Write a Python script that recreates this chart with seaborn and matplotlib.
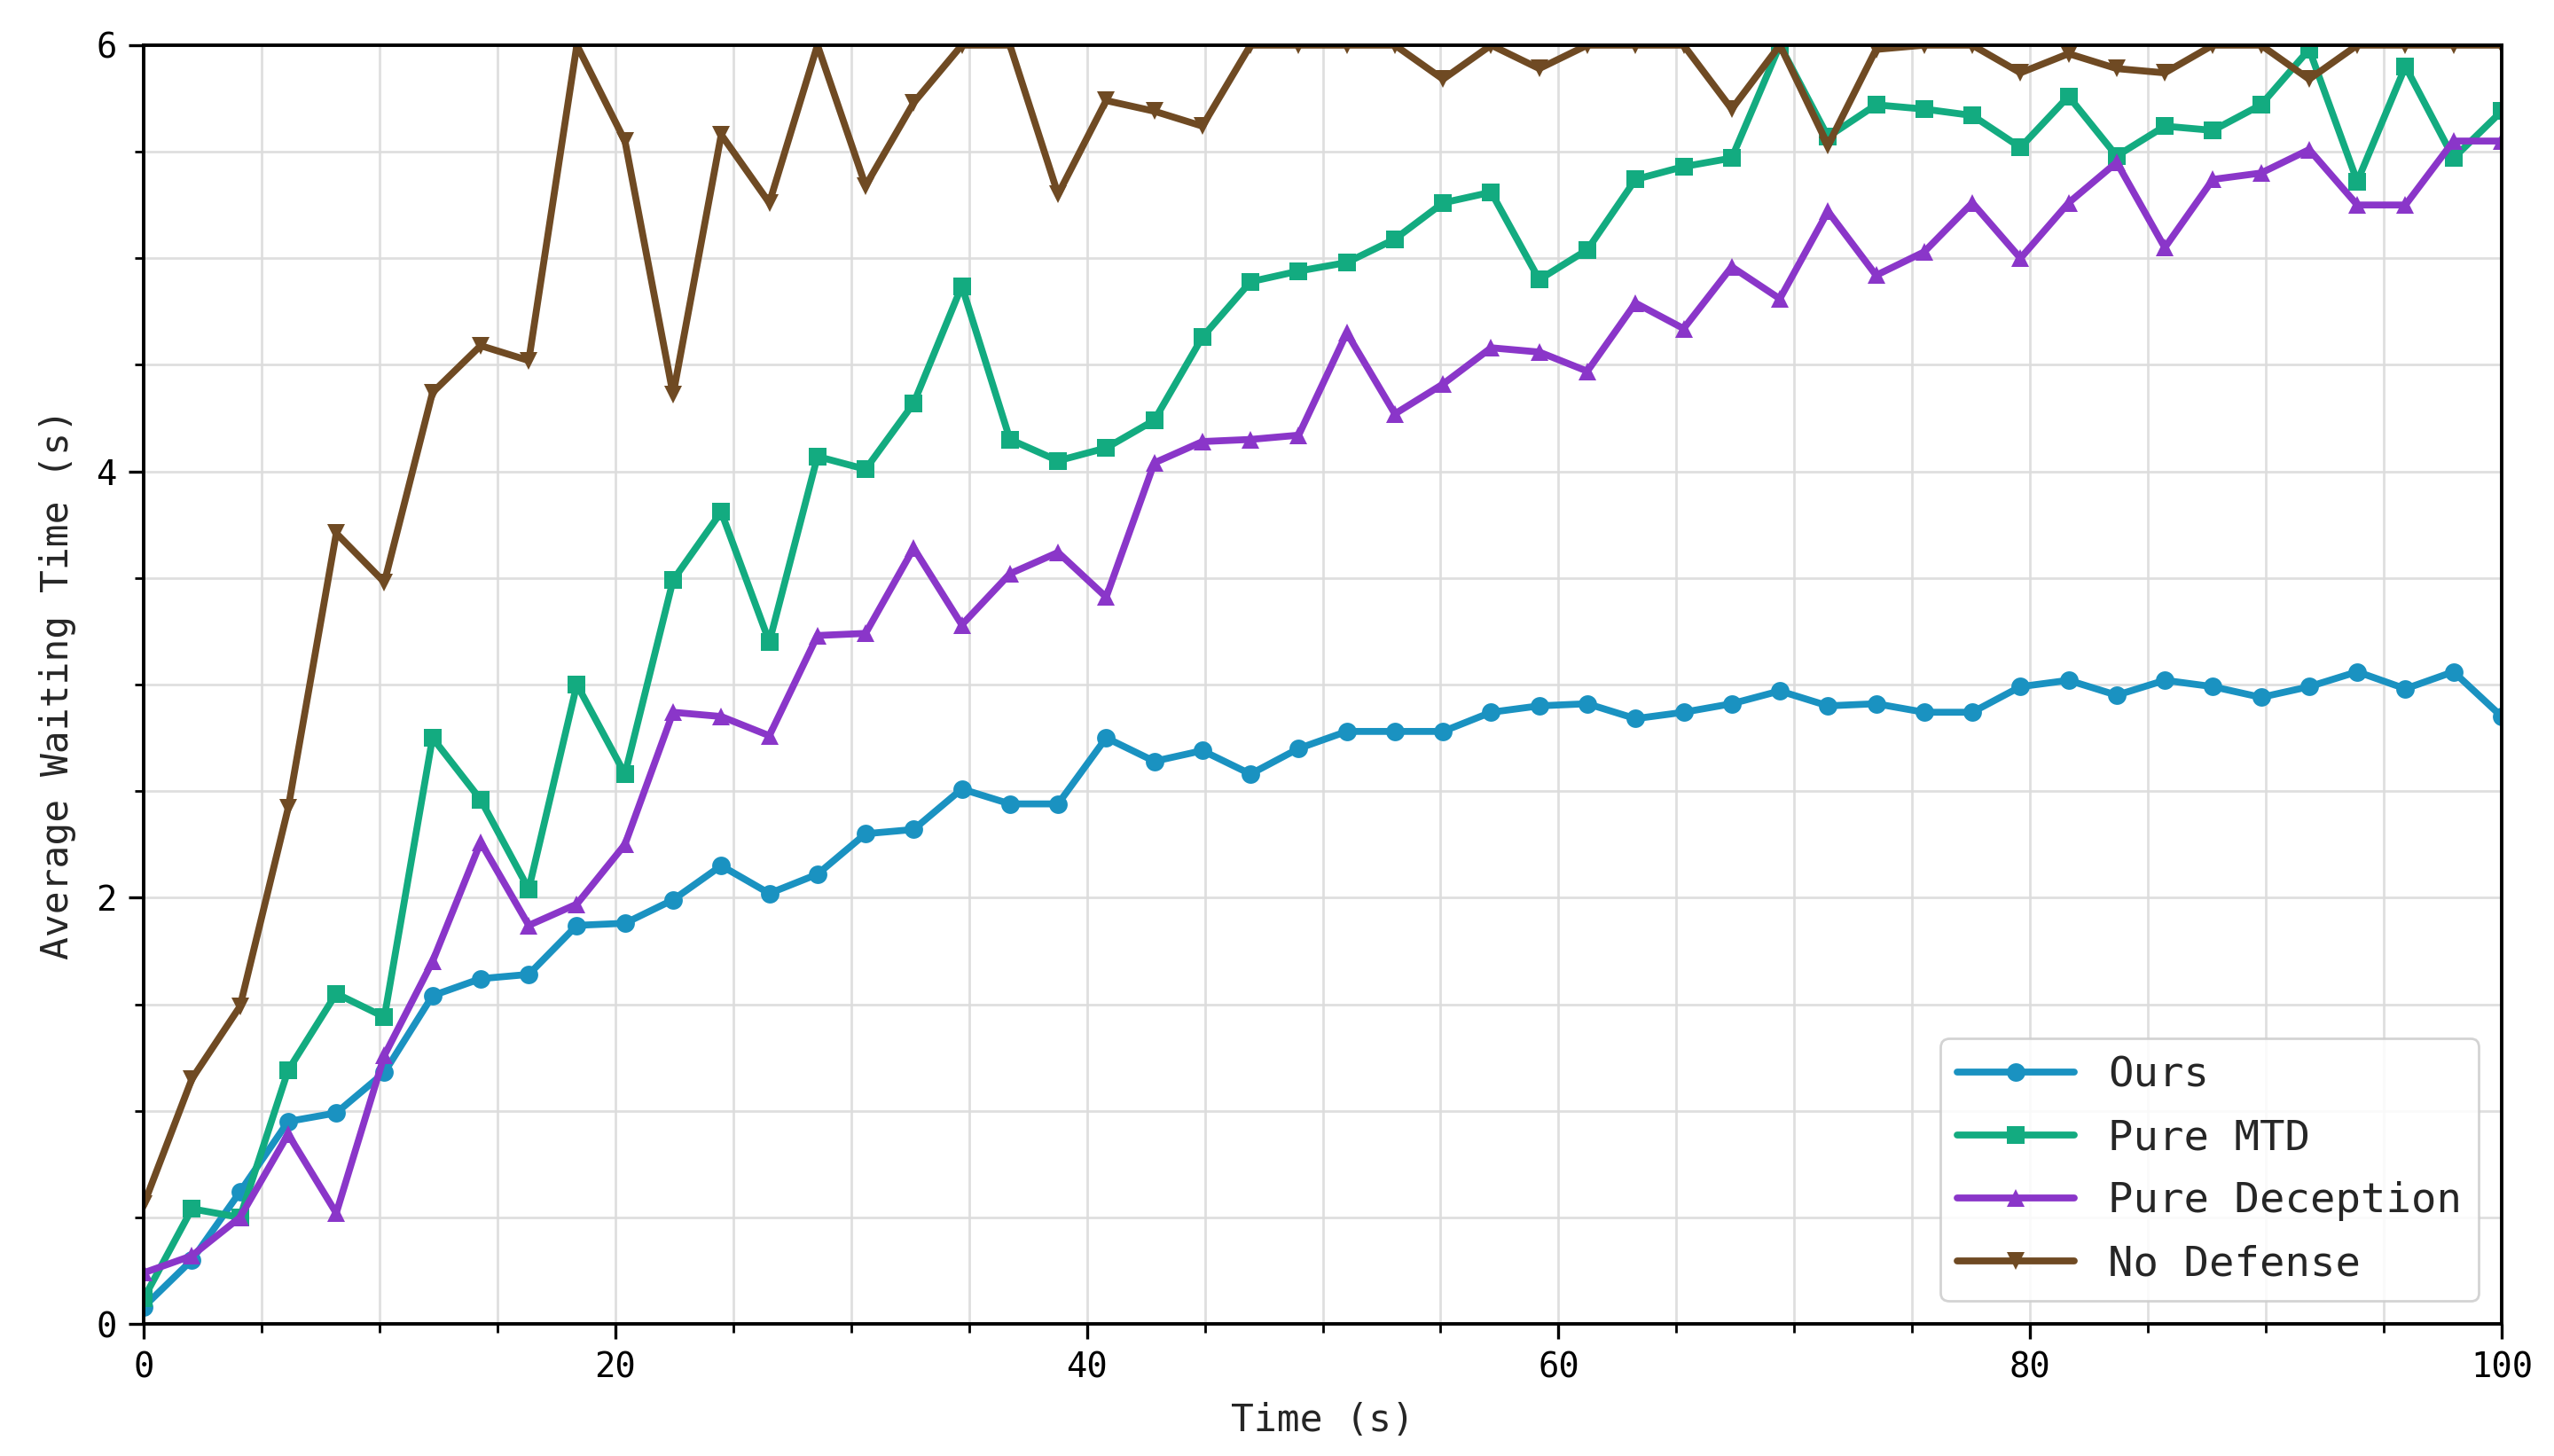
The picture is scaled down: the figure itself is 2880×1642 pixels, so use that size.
"""Average waiting time of the four defense strategies over time."""
import numpy as np
import pandas as pd
import matplotlib
matplotlib.use('Agg')
import matplotlib.pyplot as plt
from matplotlib.ticker import MultipleLocator
import seaborn as sns

# 50 sampling points between 0 and 100 s
time_s = np.linspace(0, 100, 50)

ours = [0.08, 0.30, 0.62, 0.95, 0.99, 1.18, 1.54, 1.62, 1.64, 1.87,
        1.88, 1.99, 2.15, 2.02, 2.11, 2.30, 2.32, 2.51, 2.44, 2.44,
        2.75, 2.64, 2.69, 2.58, 2.70, 2.78, 2.78, 2.78, 2.87, 2.90,
        2.91, 2.84, 2.87, 2.91, 2.97, 2.90, 2.91, 2.87, 2.87, 2.99,
        3.02, 2.95, 3.02, 2.99, 2.94, 2.99, 3.06, 2.98, 3.06, 2.85]

pure_mtd = [0.12, 0.54, 0.50, 1.19, 1.55, 1.44, 2.75, 2.46, 2.04, 3.00,
            2.58, 3.49, 3.81, 3.20, 4.07, 4.01, 4.32, 4.87, 4.15, 4.05,
            4.11, 4.24, 4.63, 4.89, 4.94, 4.98, 5.09, 5.26, 5.31, 4.90,
            5.04, 5.37, 5.43, 5.47, 6.00, 5.57, 5.72, 5.70, 5.67, 5.52,
            5.76, 5.48, 5.62, 5.60, 5.72, 5.98, 5.36, 5.90, 5.47, 5.69]

pure_deception = [0.24, 0.32, 0.50, 0.89, 0.52, 1.26, 1.70, 2.26, 1.87, 1.97,
                  2.25, 2.87, 2.85, 2.76, 3.23, 3.24, 3.64, 3.28, 3.52, 3.62,
                  3.41, 4.04, 4.14, 4.15, 4.17, 4.65, 4.27, 4.41, 4.58, 4.56,
                  4.47, 4.79, 4.67, 4.96, 4.81, 5.22, 4.92, 5.03, 5.26, 5.00,
                  5.26, 5.45, 5.05, 5.37, 5.40, 5.51, 5.25, 5.25, 5.55, 5.55]

no_defense = [0.56, 1.15, 1.49, 2.42, 3.71, 3.48, 4.37, 4.59, 4.52, 6.00,
              5.55, 4.36, 5.58, 5.26, 6.00, 5.34, 5.73, 6.00, 6.00, 5.30,
              5.74, 5.69, 5.62, 6.00, 6.00, 6.00, 6.00, 5.84, 6.00, 5.89,
              6.00, 6.00, 6.00, 5.70, 6.00, 5.53, 5.98, 6.00, 6.00, 5.87,
              5.96, 5.89, 5.87, 6.00, 6.00, 5.84, 6.00, 6.00, 6.00, 6.00]

labels = ['Ours', 'Pure MTD', 'Pure Deception', 'No Defense']
colors = ['#1a92c1', '#13ab80', '#8a36c9', '#6f4a23']
markers = ['o', 's', '^', 'v']

sns.set_style('ticks')
plt.rcParams['font.family'] = ['DejaVu Sans Mono']

fig = plt.figure(figsize=(14.4, 8.21), dpi=200)
ax = fig.add_axes([0.0563, 0.0907, 0.9232, 0.8783])

for series, label, color, marker in zip(
        [ours, pure_mtd, pure_deception, no_defense], labels, colors, markers):
    df = pd.DataFrame({'time': time_s, 'value': series})
    sns.lineplot(data=df, x='time', y='value', ax=ax, color=color,
                 marker=marker, markersize=7.5, markeredgewidth=0,
                 linewidth=2.8, label=label)

ax.set_xlim(0, 100)
ax.set_ylim(0, 6)
ax.xaxis.set_major_locator(MultipleLocator(20))
ax.xaxis.set_minor_locator(MultipleLocator(5))
ax.yaxis.set_major_locator(MultipleLocator(2))
ax.yaxis.set_minor_locator(MultipleLocator(0.5))
ax.grid(which='both', color='#dcdcdc', linewidth=1.0, alpha=0.9)
ax.set_axisbelow(True)

for spine in ax.spines.values():
    spine.set_color('black')
    spine.set_linewidth(1.4)

ax.tick_params(which='major', direction='out', length=6, width=1.2,
               labelsize=14, pad=5, colors='black')
ax.tick_params(which='minor', direction='out', length=3.5, width=1.0,
               colors='black')

ax.set_xlabel('Time (s)', fontsize=15.5, labelpad=7)
ax.set_ylabel('Average Waiting Time (s)', fontsize=15.5, labelpad=8)

legend = ax.legend(loc='lower right', fontsize=17, frameon=True,
                   fancybox=True, framealpha=0.85, edgecolor='#cccccc',
                   handlelength=2.8, labelspacing=0.55, borderaxespad=0.55)

fig.savefig('out.png', dpi=200)
